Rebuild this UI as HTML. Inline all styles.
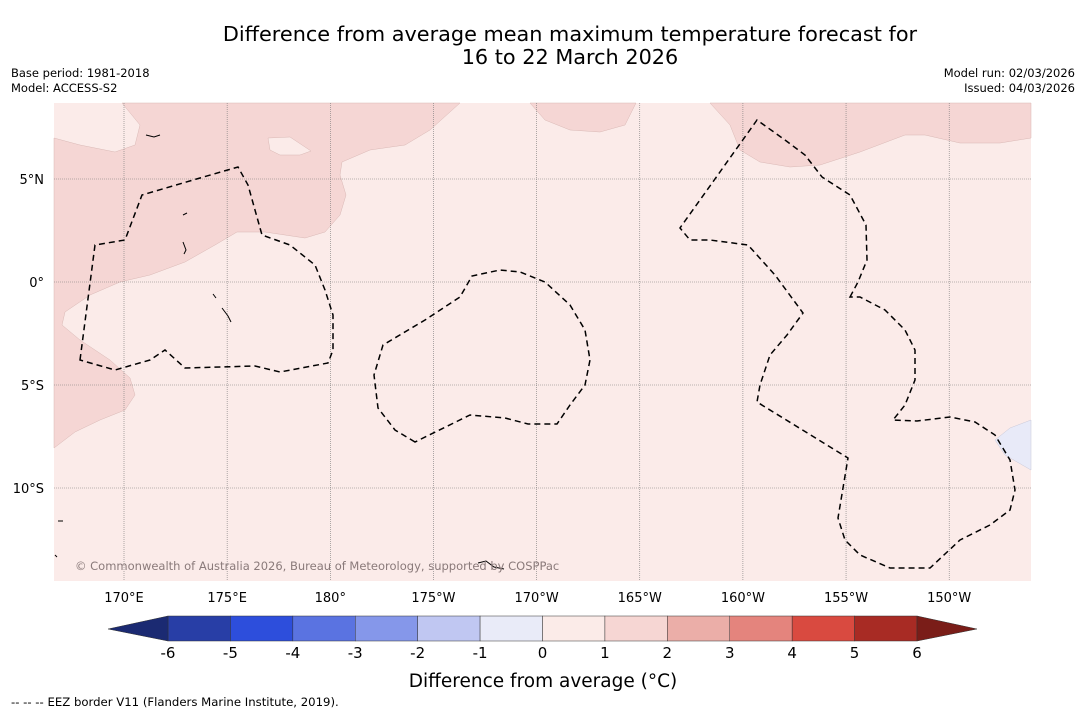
<!DOCTYPE html>
<html><head><meta charset="utf-8"><style>
body{margin:0;background:#fff;width:1085px;height:713px;overflow:hidden;font-family:"Liberation Sans","DejaVu Sans",sans-serif}
svg text{font-family:"DejaVu Sans","Liberation Sans",sans-serif}
</style></head><body>
<svg width="1085" height="713">
<text x="570" y="41" font-size="20.8" text-anchor="middle">Difference from average mean maximum temperature forecast for</text>
<text x="570" y="64" font-size="20.8" text-anchor="middle">16 to 22 March 2026</text>
<text x="11" y="77" font-size="11.5">Base period: 1981-2018</text>
<text x="11" y="92" font-size="11.5">Model: ACCESS-S2</text>
<text x="1075" y="77" font-size="11.5" text-anchor="end">Model run: 02/03/2026</text>
<text x="1075" y="92" font-size="11.5" text-anchor="end">Issued: 04/03/2026</text>
<g id="map">
<rect x="54" y="103" width="977" height="478" fill="#fbebe9"/>
<path fill="#f5d6d4" stroke="#d9b8b5" stroke-width="0.5" d="M122,103 L460,103 L430,130 L405,145 L370,150 L342,162 L340,175 L346,195 L340,215 L325,232 L305,238 L265,232 L237,232 L215,245 L185,262 L150,275 L120,282 L90,295 L65,312 L62,325 L80,340 L110,360 L130,378 L135,395 L125,410 L100,420 L75,432 L54,448 L54,138 L80,145 L115,152 L135,145 L140,125 Z"/>
<path fill="#fbebe9" stroke="#d9b8b5" stroke-width="0.5" d="M268,138 L290,137 L311,151 L300,155 L280,155 L270,150 Z"/>
<path fill="#f5d6d4" stroke="#d9b8b5" stroke-width="0.5" d="M530,103 L545,120 L570,130 L600,132 L625,125 L636,103 Z"/>
<path fill="#f5d6d4" stroke="#d9b8b5" stroke-width="0.5" d="M710,103 L730,125 L740,150 L760,162 L790,167 L820,165 L860,152 L905,135 L925,135 L960,143 L1000,143 L1031,138 L1031,103 Z"/>
<path fill="#e8eaf8" stroke="#c8c8d8" stroke-width="0.5" d="M1031,420 L1010,428 L995,440 L1005,455 L1031,470 Z"/>
<g id="grid" stroke="#777" stroke-width="0.6" stroke-dasharray="1,1"></g>
<g fill="none" stroke="#000" stroke-width="1.5" stroke-dasharray="6,4">
<path d="M80,360 L95,245 L125,240 L142,195 L200,178 L238,167 L248,185 L262,235 L290,245 L315,265 L325,290 L333,315 L333,350 L328,363 L280,372 L255,366 L185,368 L165,350 L150,360 L115,370 Z"/>
<path d="M415,442 L395,430 L378,408 L374,375 L383,345 L425,320 L460,297 L472,276 L500,270 L520,272 L545,282 L570,305 L585,330 L590,360 L585,385 L570,405 L557,424 L528,424 L505,418 L470,415 Z"/>
<path d="M850,297 L858,282 L867,260 L866,225 L850,195 L822,177 L805,155 L785,140 L757,120 L680,228 L690,240 L710,240 L748,245 L775,275 L803,313 L787,335 L770,355 L760,385 L757,402 L848,458 L838,518 L845,540 L860,555 L890,568 L930,568 L960,540 L990,525 L1010,510 L1015,490 L1010,460 L995,435 L975,422 L950,417 L917,421 L893,420 L905,405 L915,380 L915,350 L905,330 L885,310 L860,297 Z"/>
</g>
<g fill="none" stroke="#000" stroke-width="1">
<path d="M146,135 l8,2 l6,-2 M183,242 l3,8 l-2,4 M213,294 l3,4 M222,308 l6,8 l3,6 M478,563 l8,-2 l8,6 l10,2 M183,215 l4,-2 M55,555 l2,2 M58,521 l5,0"/>
</g>
<text x="75" y="570" font-size="11.5" fill="#8a7a7a">© Commonwealth of Australia 2026, Bureau of Meteorology, supported by COSPPac</text>
</g>
<g id="axes"></g>
<g id="cbar"></g>
<text x="543" y="687" font-size="18.5" text-anchor="middle">Difference from average (°C)</text>
<text x="11" y="706" font-size="11.7">--  --  -- EEZ border V11 (Flanders Marine Institute, 2019).</text>
</svg>
<script>
const lonLabels=["170°E","175°E","180°","175°W","170°W","165°W","160°W","155°W","150°W"];
const lonValues=[170,175,180,185,190,195,200,205,210];
const latLabels=["5°N","0°","5°S","10°S"];
const latValues=[5,0,-5,-10];
const cbarTicks=[-6,-5,-4,-3,-2,-1,0,1,2,3,4,5,6];
const cbarColors=["#283ea6","#2d4edc","#5a73e1","#8597ea","#c0c7f2","#e9ebf8","#fbebe8","#f6d6d3","#ebaea8","#e4847d","#d94a40","#a82b24"];
const NS="http://www.w3.org/2000/svg";
const xLon=l=>124+(l-170)*20.63, yLat=a=>282-a*20.6;
const cx=v=>168+(v+6)*(749/12);
function mk(p,t,a){const e=document.createElementNS(NS,t);for(const k in a)e.setAttribute(k,a[k]);p.appendChild(e);return e;}
const grid=document.getElementById('grid'),axes=document.getElementById('axes'),cb=document.getElementById('cbar');
lonValues.forEach((v,i)=>{const x=xLon(v);
 const g=mk(grid,'line',{x1:x,x2:x,y1:103,y2:581});
 
 
 const t=mk(axes,'text',{x:x,y:602,'font-size':13,'text-anchor':'middle'});t.textContent=lonLabels[i];
 
 });
latValues.forEach((v,i)=>{const y=yLat(v);
 const g=mk(grid,'line',{x1:54,x2:1031,y1:y,y2:y});
 
 
 const t=mk(axes,'text',{x:44,y:y+5,'font-size':13,'text-anchor':'end'});t.textContent=latLabels[i];
 
 });
cbarColors.forEach((c,i)=>{const x0=cx(cbarTicks[i]),x1=cx(cbarTicks[i+1]);
 const r=mk(cb,'rect',{x:x0,y:616,width:x1-x0,height:25,fill:c,stroke:'#333','stroke-width':0.5});
 
 });
const la=mk(cb,'polygon',{points:`${cx(-6)},616 108,629 ${cx(-6)},641`,fill:'#1b2a72',stroke:'#333','stroke-width':0.5});


const ra=mk(cb,'polygon',{points:`${cx(6)},616 977,629 ${cx(6)},641`,fill:'#7a1d18',stroke:'#333','stroke-width':0.5});


cbarTicks.forEach(v=>{const t=mk(cb,'text',{x:cx(v),y:658,'font-size':15,'text-anchor':'middle'});t.textContent=v;
 
 });
</script>
</body></html>
